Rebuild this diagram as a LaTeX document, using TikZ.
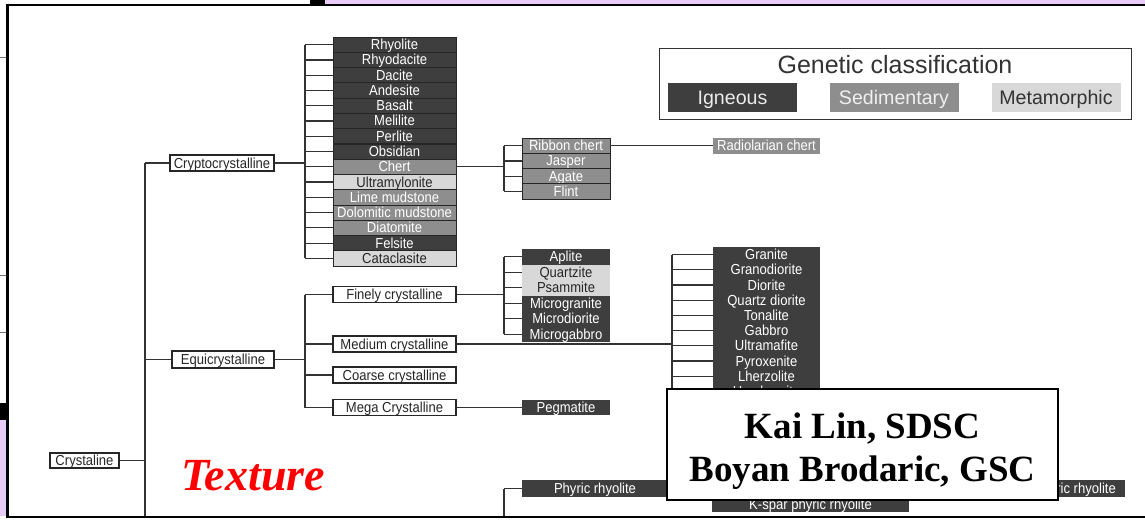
\documentclass[tikz,border=0pt]{standalone}
\usepackage{fontspec}
\usetikzlibrary{calc}
\newfontfamily\lblfont[FakeStretch=0.9]{Liberation Sans}
\newfontfamily\keyfont{Liberation Sans}
\newfontfamily\authorfont{Liberation Serif}
\definecolor{ign}{HTML}{3E3E3E}
\definecolor{sed}{HTML}{8E8E8E}
\definecolor{met}{HTML}{D8D8D8}
\definecolor{wirecol}{HTML}{333333}
\definecolor{lav}{HTML}{E8CCF8}
\tikzset{
  lbl/.style={inner sep=0pt, font=\lblfont\fontsize{14.5}{15}\selectfont, text height=11.5pt, text depth=1.5pt},
  ig/.style={lbl, fill=ign, text=white},
  sd/.style={lbl, fill=sed, text=white},
  mt/.style={lbl, fill=met, text=black!85},
  ruled/.style={draw=black!85, line width=0.7pt},
  colA/.style={minimum width=123pt, minimum height=15.27pt},
  colB/.style={minimum width=88pt, minimum height=15.25pt},
  colC/.style={minimum width=107pt, minimum height=15.2pt},
  cls/.style={lbl, draw=black!85, line width=1.1pt, fill=white, text=black!85},
  wire/.style={draw=wirecol, line width=1.2pt},
  keybox/.style={inner sep=0pt, minimum width=129pt, minimum height=29pt, font=\keyfont\fontsize{19.6}{22}\selectfont, text height=14pt, text depth=0pt},
}
\begin{document}
\begin{tikzpicture}[x=1pt,y=-1pt]
\useasboundingbox (0,0) rectangle (1145,520);
\fill[white] (0,0) rectangle (1145,520);

% ---------- bus positions ----------
\coordinate (busR) at (145,0);
\coordinate (busA) at (305,0);
\coordinate (busC) at (504,0);
\coordinate (busE) at (672,0);
\coordinate (bottom) at (0,517);

% ---------- root and first level ----------
\node[cls, minimum width=69pt, minimum height=15pt] (cryst) at (84.5,460.5) {Crystaline};
\node[cls, minimum width=104pt, minimum height=16pt] (crypto) at (222,163) {Cryptocrystalline};
\node[cls, minimum width=102pt, minimum height=17pt] (equi) at (223,359.5) {Equicrystalline};

% ---------- cryptocrystalline members ----------
\node[ig,ruled,colA] (rhy)   at (394.5,44.6)  {Rhyolite};
\node[ig,ruled,colA] (rhd)   at (394.5,59.9)  {Rhyodacite};
\node[ig,ruled,colA] (dac)   at (394.5,75.1)  {Dacite};
\node[ig,ruled,colA] (and)   at (394.5,90.4)  {Andesite};
\node[ig,ruled,colA] (bas)   at (394.5,105.7) {Basalt};
\node[ig,ruled,colA] (mel)   at (394.5,120.95){Melilite};
\node[ig,ruled,colA] (per)   at (394.5,136.2) {Perlite};
\node[ig,ruled,colA] (obs)   at (394.5,151.5) {Obsidian};
\node[sd,ruled,colA] (chert) at (394.5,166.8) {Chert};
\node[mt,ruled,colA] (ulm)   at (394.5,182.0) {Ultramylonite};
\node[sd,ruled,colA] (lime)  at (394.5,197.3) {Lime mudstone};
\node[sd,ruled,colA] (dolo)  at (394.5,212.6) {Dolomitic mudstone};
\node[sd,ruled,colA] (diat)  at (394.5,227.8) {Diatomite};
\node[ig,ruled,colA] (fels)  at (394.5,243.1) {Felsite};
\node[mt,ruled,colA] (cat)   at (394.5,258.4) {Cataclasite};

% ---------- chert varieties ----------
\node[sd,ruled,colB] (rib) at (566,145.6) {Ribbon chert};
\node[sd,ruled,colB] (jas) at (566,160.9) {Jasper};
\node[sd,ruled,colB] (aga) at (566,176.1) {Agate};
\node[sd,ruled,colB] (fli) at (566,191.4) {Flint};
\node[sd,colC,minimum height=16pt] (radio) at (766.5,145.6) {Radiolarian chert};

% ---------- equicrystalline classes ----------
\node[cls, minimum width=123pt, minimum height=15.5pt] (fine)   at (394.5,294.5) {Finely crystalline};
\node[cls, minimum width=123pt, minimum height=16pt]   (medium) at (394.5,344)   {Medium crystalline};
\node[cls, minimum width=123pt, minimum height=16pt]   (coarse) at (394.5,375)   {Coarse crystalline};
\node[cls, minimum width=123pt, minimum height=15.5pt] (mega)   at (394.5,407.5) {Mega Crystalline};

% ---------- finely crystalline members ----------
\node[ig,colB,minimum height=15.5pt] (apl) at (566,256.75) {Aplite};
\node[mt,colB,minimum height=15.5pt] (qtz) at (566,272.25) {Quartzite};
\node[mt,colB,minimum height=15.5pt] (psa) at (566,287.75) {Psammite};
\node[ig,colB,minimum height=15.5pt] (mgr) at (566,303.25) {Microgranite};
\node[ig,colB,minimum height=15.5pt] (mdi) at (566,318.75) {Microdiorite};
\node[ig,colB,minimum height=15.5pt] (mga) at (566,334.25) {Microgabbro};

% ---------- medium crystalline members ----------
\node[ig,colC] (gra) at (766.5,254.6) {Granite};
\node[ig,colC] (grd) at (766.5,269.8) {Granodiorite};
\node[ig,colC] (dio) at (766.5,285.0) {Diorite};
\node[ig,colC] (qdi) at (766.5,300.2) {Quartz diorite};
\node[ig,colC] (ton) at (766.5,315.4) {Tonalite};
\node[ig,colC] (gab) at (766.5,330.6) {Gabbro};
\node[ig,colC] (umf) at (766.5,345.8) {Ultramafite};
\node[ig,colC] (pyx) at (766.5,361.0) {Pyroxenite};
\node[ig,colC] (lhz) at (766.5,376.2) {Lherzolite};
\node[ig,colC] (hzb) at (766.5,391.4) {Harzburgite};

% ---------- mega crystalline member ----------
\node[ig,colB,minimum height=15.5pt] (peg) at (566,407.5) {Pegmatite};

% ---------- porphyritic branch ----------
\node[ig, minimum width=146pt, minimum height=17pt] (phyric) at (595,488.5) {Phyric rhyolite};
\node[ig, minimum width=197pt, minimum height=15.3pt] (kspar) at (810.5,504.5) {K-spar phyric rhyolite};
\node[ig, anchor=east, minimum height=17pt, inner xsep=9pt] (phr2) at (1125,488.5) {phyric rhyolite};

% ---------- connectors ----------
\draw[wire] (cryst.east) -- (cryst.east -| busR);
\draw[wire] (crypto.west -| busR) -- (busR |- bottom);
\draw[wire] (crypto.west) -- (crypto.west -| busR);
\draw[wire] (equi.west) -- (equi.west -| busR);

\draw[wire] (crypto.east) -- (crypto.east -| busA);
\draw[wire] (rhy.west -| busA) -- (cat.west -| busA);
\foreach \n in {rhy,rhd,dac,and,bas,mel,per,obs,chert,ulm,lime,dolo,diat,fels,cat}
  \draw[wire] (\n.west) -- (\n.west -| busA);

\draw[wire] (equi.east) -- (equi.east -| busA);
\draw[wire] (fine.west -| busA) -- (mega.west -| busA);
\foreach \n in {fine,medium,coarse,mega}
  \draw[wire] (\n.west) -- (\n.west -| busA);

\draw[wire] (chert.east) -- (chert.east -| busC);
\draw[wire] (rib.west -| busC) -- (fli.west -| busC);
\foreach \n in {rib,jas,aga,fli}
  \draw[wire] (\n.west) -- (\n.west -| busC);
\draw[wire] (rib.east) -- (radio.west);

\draw[wire] (fine.east) -- (fine.east -| busC);
\draw[wire] (apl.west -| busC) -- (mga.west -| busC);
\foreach \n in {apl,qtz,psa,mgr,mdi,mga}
  \draw[wire] (\n.west) -- (\n.west -| busC);

\draw[wire] (medium.east) -- (medium.east -| busE);
\draw[wire] (gra.west -| busE) -- (hzb.west -| busE);
\foreach \n in {gra,grd,dio,qdi,ton,gab,umf,pyx,lhz,hzb}
  \draw[wire] (\n.west) -- (\n.west -| busE);

\draw[wire] (mega.east) -- (peg.west);

\draw[wire] (phyric.west) -- (phyric.west -| busC);
\draw[wire] (phyric.west -| busC) -- (busC |- bottom);

% ---------- legend ----------
\node[draw=black!80, line width=1pt, minimum width=472pt, minimum height=71pt, inner sep=0pt] (legend) at (895,83.5) {};
\node[font=\keyfont\fontsize{25}{28}\selectfont, text=black!80, anchor=base, inner sep=0pt] (ltitle) at (895,73) {Genetic classification};
\node[keybox, fill=ign, text=white!92!black] (kig) at (732.5,97.5) {Igneous};
\node[keybox, fill=sed, text=white!94!black] (ksd) at (894,97.5) {Sedimentary};
\node[keybox, fill=met, text=black!80] (kmt) at (1056,97.5) {Metamorphic};

% ---------- title word ----------
\node[font=\authorfont\bfseries\itshape\fontsize{46}{50}\selectfont, text=red, anchor=base, inner sep=0pt] (texture) at (253,490) {Texture};

% ---------- authors panel ----------
\node[draw=black, line width=2.8pt, fill=white, minimum width=391pt, minimum height=111pt, inner sep=0pt] (author) at (862.5,444.5) {};
\node[font=\authorfont\bfseries\fontsize{37}{40}\selectfont, anchor=base, inner sep=0pt] (kai) at (862.5,438) {Kai Lin, SDSC};
\node[font=\authorfont\bfseries\fontsize{37}{40}\selectfont, anchor=base, inner sep=0pt] (boyan) at (862.5,481) {Boyan Brodaric, GSC};

% ---------- slide frame ----------
\fill[lav] (325,0) rectangle (1145,3.5);
\fill[black] (310,0) rectangle (325,4.5);
\fill[black] (0,403) rectangle (6.5,420);
\fill[lav] (0,420) rectangle (6.5,516);
\foreach \yy in {57,275,332}
  \draw[black!55, line width=1pt] (0,\yy) -- (6.5,\yy);
\draw[black, line width=2pt] (6.5,4.5) -- (1145,4.5);
\draw[black, line width=2.2pt] (7.5,3.5) -- (7.5,518);
\draw[black, line width=2pt] (6.5,517) -- (1145,517);
\end{tikzpicture}
\end{document}
